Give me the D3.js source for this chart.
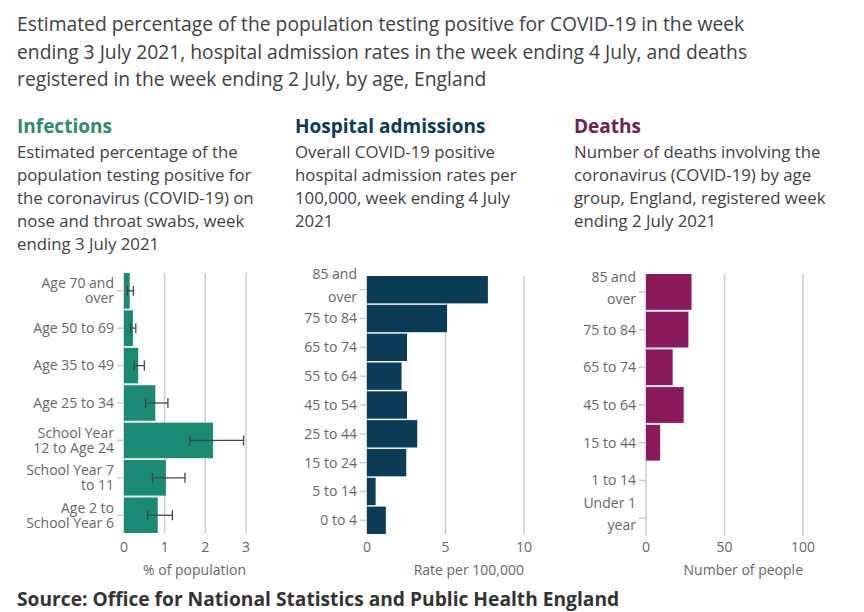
<!DOCTYPE html>
<html>
<head>
<meta charset="utf-8">
<script src="https://cdn.jsdelivr.net/npm/d3@7"></script>
<style>
  body { margin: 0; background: #fff; }
  svg { font-family: "Open Sans", sans-serif; }
</style>
</head>
<body>
<svg id="chart" width="864" height="612"></svg>
<script>
// ---- data ----
var infCats = ["Age 70 and\nover", "Age 50 to 69", "Age 35 to 49", "Age 25 to 34",
               "School Year\n12 to Age 24", "School Year 7\nto 11", "Age 2 to\nSchool Year 6"];
var infValues = [0.14, 0.22, 0.35, 0.77, 2.19, 1.03, 0.83];
var infLower  = [0.08, 0.16, 0.25, 0.53, 1.62, 0.70, 0.58];
var infUpper  = [0.23, 0.29, 0.50, 1.08, 2.94, 1.50, 1.19];
var infTicks  = [0, 1, 2, 3];

var hospCats = ["85 and\nover", "75 to 84", "65 to 74", "55 to 64", "45 to 54",
                "25 to 44", "15 to 24", "5 to 14", "0 to 4"];
var hospValues = [7.7, 5.1, 2.55, 2.2, 2.55, 3.2, 2.5, 0.55, 1.2];
var hospTicks  = [0, 5, 10];

var deathCats = ["85 and\nover", "75 to 84", "65 to 74", "45 to 64", "15 to 44",
                 "1 to 14", "Under 1\nyear"];
var deathValues = [29, 27, 17, 24, 9, 0, 0];
var deathTicks  = [0, 50, 100];

var titleLines = [
  "Estimated percentage of the population testing positive for COVID-19 in the week",
  "ending 3 July 2021, hospital admission rates in the week ending 4 July, and deaths",
  "registered in the week ending 2 July, by age, England"
];

var svg = d3.select("#chart");
var textCol = "#414042", axisCol = "#666", gridCol = "#cccccc";

// title
svg.append("g").selectAll("text")
    .data(titleLines)
    .enter().append("text")
    .attr("x", 17)
    .attr("y", function(d, i) { return 31 + i * 27.5; })
    .style("font-size", "19.3px")
    .attr("fill", textCol)
    .text(function(d) { return d; });

// panels
var panels = [
  {left: 17, heading: "Infections", headCol: "#2a8a72", barCol: "#1b8a74",
   desc: ["Estimated percentage of the", "population testing positive for",
          "the coronavirus (COVID-19) on", "nose and throat swabs, week", "ending 3 July 2021"],
   cats: infCats, values: infValues, lower: infLower, upper: infUpper, ticks: infTicks,
   x0: 124, x1: 246, y0: 273, y1: 533, lineH: 15, firstOff: -7.5, axisTitle: "% of population"},
  {left: 295, heading: "Hospital admissions", headCol: "#0b3b54", barCol: "#0a3c57",
   desc: ["Overall COVID-19 positive", "hospital admission rates per",
          "100,000, week ending 4 July", "2021"],
   cats: hospCats, values: hospValues, ticks: hospTicks,
   x0: 367, x1: 524, y0: 276, y1: 534, lineH: 23, firstOff: -16, axisTitle: "Rate per 100,000"},
  {left: 574, heading: "Deaths", headCol: "#6b2250", barCol: "#8a1a5c",
   desc: ["Number of deaths involving the", "coronavirus (COVID-19) by age",
          "group, England, registered week", "ending 2 July 2021"],
   cats: deathCats, values: deathValues, ticks: deathTicks,
   x0: 646, x1: 803, y0: 274, y1: 536, lineH: 22, firstOff: -15, axisTitle: "Number of people"}
];

panels.forEach(function(p) {
  var g = svg.append("g");

  g.append("text")
    .attr("x", p.left).attr("y", 133)
    .style("font-size", "19px").style("font-weight", 700)
    .attr("fill", p.headCol)
    .text(p.heading);

  g.selectAll(".desc")
    .data(p.desc)
    .enter().append("text")
    .attr("x", p.left)
    .attr("y", function(d, i) { return 158 + i * 23; })
    .style("font-size", "16.8px")
    .attr("fill", textCol)
    .text(function(d) { return d; });

  var x = d3.scaleLinear()
      .domain([p.ticks[0], p.ticks[p.ticks.length - 1]])
      .range([p.x0, p.x1]);
  var y = d3.scaleBand()
      .domain(p.cats)
      .range([p.y0, p.y1])
      .paddingInner(0.05);

  // grid lines
  g.selectAll(".grid")
    .data(p.ticks)
    .enter().append("line")
    .attr("x1", function(d) { return x(d); })
    .attr("x2", function(d) { return x(d); })
    .attr("y1", p.y0).attr("y2", p.y1)
    .attr("stroke", gridCol).attr("stroke-width", 1.5);

  // x tick labels
  g.selectAll(".xt")
    .data(p.ticks)
    .enter().append("text")
    .attr("x", function(d) { return x(d); })
    .attr("y", 552)
    .attr("text-anchor", "middle")
    .style("font-size", "14px")
    .attr("fill", axisCol)
    .text(function(d) { return d; });

  g.append("text")
    .attr("x", p.x1).attr("y", 575)
    .attr("text-anchor", "end")
    .style("font-size", "14px")
    .attr("fill", axisCol)
    .text(p.axisTitle);

  // y ticks and labels
  var yt = g.selectAll(".yt")
    .data(p.cats)
    .enter().append("g")
    .attr("transform", function(d) { return "translate(0," + (y(d) + y.bandwidth() / 2) + ")"; });

  yt.append("line")
    .attr("x1", p.x0 - 7).attr("x2", p.x0)
    .attr("stroke", gridCol).attr("stroke-width", 1.5);

  yt.append("text")
    .attr("x", p.x0 - 10)
    .attr("text-anchor", "end")
    .style("font-size", "14px")
    .attr("fill", axisCol)
    .each(function(d) {
      var lines = d.split("\n");
      var t = d3.select(this);
      var start = lines.length > 1 ? p.firstOff : 0;
      lines.forEach(function(l, i) {
        t.append("tspan")
          .attr("x", p.x0 - 10)
          .attr("y", start + i * p.lineH)
          .attr("dy", "0.35em")
          .text(l);
      });
    });

  // bars
  g.selectAll(".bar")
    .data(p.values)
    .enter().append("rect")
    .attr("x", x(0))
    .attr("y", function(d, i) { return y(p.cats[i]); })
    .attr("width", function(d) { return x(d) - x(0); })
    .attr("height", y.bandwidth())
    .attr("fill", p.barCol);

  // error bars
  if (p.lower) {
    var eb = g.selectAll(".err")
      .data(p.values)
      .enter().append("g")
      .attr("transform", function(d, i) { return "translate(0," + (y(p.cats[i]) + y.bandwidth() / 2) + ")"; });
    eb.append("line")
      .attr("x1", function(d, i) { return x(p.lower[i]); })
      .attr("x2", function(d, i) { return x(p.upper[i]); })
      .attr("stroke", "#444").attr("stroke-width", 1.3);
    eb.append("line")
      .attr("x1", function(d, i) { return x(p.lower[i]); })
      .attr("x2", function(d, i) { return x(p.lower[i]); })
      .attr("y1", -5).attr("y2", 5)
      .attr("stroke", "#444").attr("stroke-width", 1.3);
    eb.append("line")
      .attr("x1", function(d, i) { return x(p.upper[i]); })
      .attr("x2", function(d, i) { return x(p.upper[i]); })
      .attr("y1", -5).attr("y2", 5)
      .attr("stroke", "#444").attr("stroke-width", 1.3);
  }
});

// source
svg.append("text")
  .attr("x", 17).attr("y", 606)
  .style("font-size", "19.2px").style("font-weight", 700)
  .attr("fill", "#333")
  .text("Source: Office for National Statistics and Public Health England");
</script>
</body>
</html>
